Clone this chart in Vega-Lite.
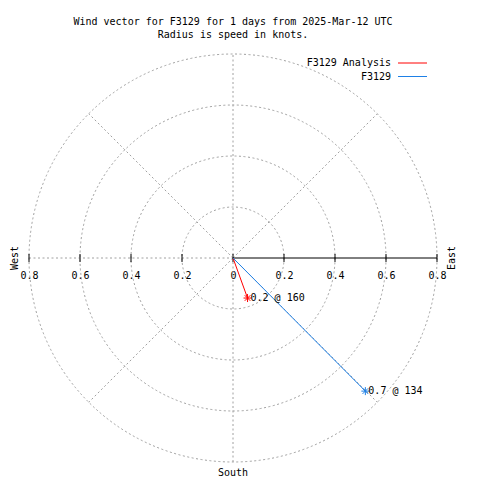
{
  "$schema": "https://vega.github.io/schema/vega-lite/v6.json",
  "width": 408,
  "height": 408,
  "autosize": "none",
  "padding": {"left": 29, "top": 54, "right": 43, "bottom": 18},
  "background": "white",
  "title": {
    "text": ["Wind vector for F3129 for 1 days from 2025-Mar-12 UTC", "Radius is speed in knots."],
    "font": "DejaVu Sans Mono",
    "fontSize": 10,
    "fontWeight": "normal",
    "lineHeight": 13,
    "anchor": "middle",
    "frame": "group",
    "offset": 12,
    "color": "black"
  },
  "config": {"view": {"stroke": null}, "font": "DejaVu Sans Mono"},
  "datasets": {
    "one": [{"id": 1}],
    "rings": [{"r": 0.2}, {"r": 0.4}, {"r": 0.6}, {"r": 0.8}],
    "spokes": [
      {"x": 0, "y": -0.8, "x2": 0, "y2": 0.8},
      {"x": -0.8, "y": 0, "x2": 0, "y2": 0},
      {"x": 0, "y": 0, "x2": 0.5657, "y2": 0.5657},
      {"x": 0, "y": 0, "x2": -0.5657, "y2": 0.5657},
      {"x": 0, "y": 0, "x2": 0.5657, "y2": -0.5657},
      {"x": 0, "y": 0, "x2": -0.5657, "y2": -0.5657}
    ],
    "ticks": [{"v": -0.8}, {"v": -0.6}, {"v": -0.4}, {"v": -0.2}, {"v": 0}, {"v": 0.2}, {"v": 0.4}, {"v": 0.6}, {"v": 0.8}],
    "vectors": [
      {"series": "F3129 Analysis", "x": 0.057, "y": -0.157, "label": "0.2 @ 160"},
      {"series": "F3129", "x": 0.519, "y": -0.522, "label": "0.7 @ 134"}
    ]
  },
  "layer": [
    {
      "data": {"name": "rings"},
      "mark": {"type": "point", "shape": "circle", "filled": false, "stroke": "#a0a0a0", "strokeWidth": 1, "strokeDash": [2, 2.5], "opacity": 1},
      "encoding": {
        "x": {"datum": 0, "type": "quantitative", "scale": {"domain": [-0.8, 0.8], "nice": false, "zero": false},
          "axis": {"title": null, "offset": -204, "domain": false, "ticks": false, "grid": false, "values": [-0.8, -0.6, -0.4, -0.2, 0, 0.2, 0.4, 0.6, 0.8],
            "labelExpr": "abs(datum.value) < 0.001 ? '0' : format(abs(datum.value), '.1f')",
            "labelFont": "DejaVu Sans Mono", "labelFontSize": 10, "labelColor": "black", "labelPadding": 12, "labelFlush": false, "labelOverlap": false}},
        "y": {"datum": 0, "type": "quantitative", "scale": {"domain": [-0.8, 0.8], "nice": false, "zero": false}, "axis": null},
        "size": {"field": "r", "type": "quantitative", "scale": {"type": "pow", "exponent": 2, "domain": [0, 0.8], "range": [0, 166464]}, "legend": null}
      }
    },
    {
      "data": {"name": "spokes"},
      "mark": {"type": "rule", "stroke": "#a0a0a0", "strokeWidth": 1, "strokeDash": [2, 2.5]},
      "encoding": {
        "x": {"field": "x", "type": "quantitative", "title": null},
        "y": {"field": "y", "type": "quantitative", "axis": null},
        "x2": {"field": "x2"},
        "y2": {"field": "y2"}
      }
    },
    {
      "data": {"name": "one"},
      "mark": {"type": "rule", "stroke": "black", "strokeWidth": 1},
      "encoding": {
        "x": {"datum": 0, "type": "quantitative", "title": null},
        "x2": {"datum": 0.8},
        "y": {"datum": 0, "type": "quantitative", "axis": null}
      }
    },
    {
      "data": {"name": "ticks"},
      "mark": {"type": "point", "shape": "M0,-1V1", "size": 64, "filled": false, "stroke": "black", "strokeWidth": 1, "opacity": 1},
      "encoding": {
        "x": {"field": "v", "type": "quantitative", "title": null},
        "y": {"datum": 0, "type": "quantitative", "axis": null}
      }
    },
    {
      "data": {"name": "vectors"},
      "layer": [
        {
          "mark": {"type": "rule", "strokeWidth": 1},
          "encoding": {
            "x": {"field": "x", "type": "quantitative", "title": null},
            "y": {"field": "y", "type": "quantitative", "axis": null},
            "x2": {"datum": 0},
            "y2": {"datum": 0},
            "color": {"field": "series", "type": "nominal",
              "scale": {"domain": ["F3129 Analysis", "F3129"], "range": ["#ff0000", "#1e80e6"]},
              "legend": {"orient": "none", "legendX": 378, "legendY": 3.5, "title": null, "padding": 0,
                "symbolType": "M-2.9,0H2.9", "symbolSize": 100, "symbolStrokeWidth": 1,
                "labelAlign": "right", "labelOffset": -27, "labelFont": "DejaVu Sans Mono", "labelFontSize": 10, "labelColor": "black", "rowPadding": 2.5}}
          }
        },
        {
          "mark": {"type": "point", "shape": "M-1,0H1M0,-1V1M-0.7,-0.7L0.7,0.7M-0.7,0.7L0.7,-0.7", "size": 64, "filled": false, "strokeWidth": 1, "opacity": 1},
          "encoding": {
            "x": {"field": "x", "type": "quantitative", "title": null},
            "y": {"field": "y", "type": "quantitative", "axis": null},
            "color": {"field": "series", "type": "nominal"}
          }
        },
        {
          "mark": {"type": "text", "align": "left", "baseline": "middle", "dx": 3, "font": "DejaVu Sans Mono", "fontSize": 10, "color": "black"},
          "encoding": {
            "x": {"field": "x", "type": "quantitative", "title": null},
            "y": {"field": "y", "type": "quantitative", "axis": null},
            "text": {"field": "label"}
          }
        }
      ]
    },
    {
      "data": {"name": "one"},
      "mark": {"type": "text", "text": "West", "angle": 270, "align": "center", "baseline": "alphabetic", "dy": -11, "font": "DejaVu Sans Mono", "fontSize": 10, "color": "black"},
      "encoding": {
        "x": {"datum": -0.8, "type": "quantitative", "title": null},
        "y": {"datum": 0, "type": "quantitative", "axis": null}
      }
    },
    {
      "data": {"name": "one"},
      "mark": {"type": "text", "text": "East", "angle": 270, "align": "center", "baseline": "alphabetic", "dy": 18, "font": "DejaVu Sans Mono", "fontSize": 10, "color": "black"},
      "encoding": {
        "x": {"datum": 0.8, "type": "quantitative", "title": null},
        "y": {"datum": 0, "type": "quantitative", "axis": null}
      }
    },
    {
      "data": {"name": "one"},
      "mark": {"type": "text", "text": "South", "align": "center", "baseline": "alphabetic", "dy": 13.5, "font": "DejaVu Sans Mono", "fontSize": 10, "color": "black"},
      "encoding": {
        "x": {"datum": 0, "type": "quantitative", "title": null},
        "y": {"datum": -0.8, "type": "quantitative", "axis": null}
      }
    }
  ]
}
